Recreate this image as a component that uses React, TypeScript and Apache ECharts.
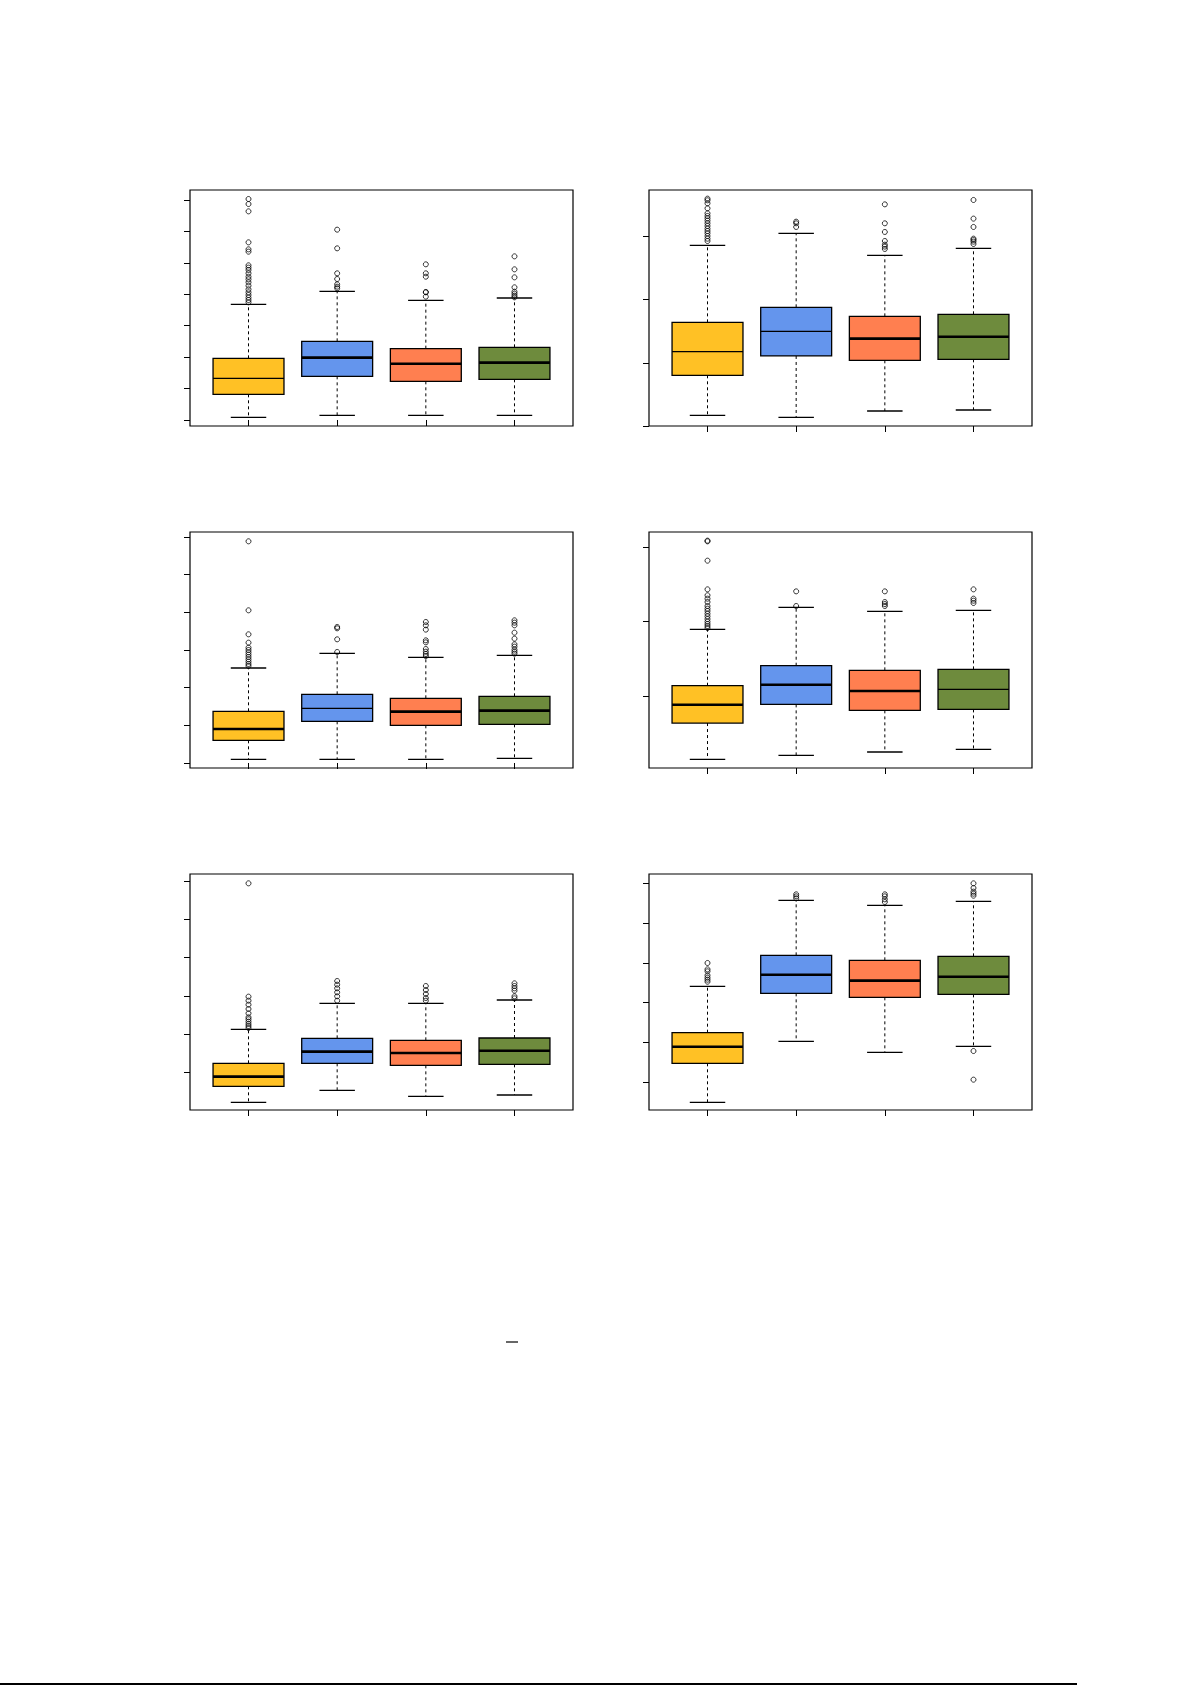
import { useEffect, useRef } from 'react'
import * as echarts from 'echarts'

// four groups per panel, drawn left to right
const groups = [1, 2, 3, 4]
const boxColors = ['#FFC125', '#6495ED', '#FF7F50', '#6E8B3D']

// each box: [lower whisker, Q1, median, Q3, upper whisker]
const p1Boxes = [
  [0.085, 0.817, 1.326, 1.962, 3.68],
  [0.148, 1.389, 1.983, 2.503, 4.094],
  [0.148, 1.23, 1.792, 2.27, 3.807],
  [0.148, 1.294, 1.824, 2.312, 3.882]
]
const p1Outliers = [
  [3.744, 3.818, 3.892, 3.977, 4.062, 4.157, 4.274, 4.38, 4.476, 4.56, 4.667, 4.773, 4.847, 4.921, 5.356, 5.43, 5.653, 6.639, 6.872, 7.031],
  [4.189, 4.242, 4.316, 4.486, 4.667, 5.462, 6.056],
  [3.924, 4.062, 4.073, 4.56, 4.667, 4.953],
  [3.903, 3.956, 4.02, 4.083, 4.221, 4.539, 4.794, 5.207]
]
const p1Ticks = [0, 1, 2, 3, 4, 5, 6, 7]
const p1Range = [-0.191, 7.318]

const p2Boxes = [
  [0.169, 0.802, 1.176, 1.64, 2.859],
  [0.137, 1.108, 1.498, 1.878, 3.049],
  [0.237, 1.039, 1.382, 1.735, 2.7],
  [0.253, 1.055, 1.413, 1.767, 2.811]
]
const p2Outliers = [
  [2.927, 2.964, 3.006, 3.049, 3.085, 3.122, 3.165, 3.207, 3.249, 3.286, 3.323, 3.365, 3.444, 3.523, 3.571, 3.597],
  [3.149, 3.207, 3.233],
  [2.801, 2.838, 2.869, 2.927, 3.07, 3.207, 3.507],
  [2.88, 2.917, 2.943, 2.964, 3.149, 3.281, 3.576]
]
const p2Ticks = [0, 1, 2, 3]
const p2Range = [0, 3.734]

const p3Boxes = [
  [0.097, 0.602, 0.903, 1.372, 2.522],
  [0.097, 1.106, 1.451, 1.823, 2.911],
  [0.097, 1.0, 1.363, 1.717, 2.805],
  [0.124, 1.027, 1.389, 1.77, 2.858]
]
const p3Outliers = [
  [2.575, 2.628, 2.69, 2.752, 2.814, 2.876, 2.938, 3.0, 3.062, 3.194, 3.416, 4.053, 5.885],
  [2.947, 3.283, 3.575, 3.61],
  [2.84, 2.894, 2.955, 3.026, 3.203, 3.256, 3.54, 3.655, 3.743],
  [2.903, 2.955, 3.009, 3.088, 3.15, 3.301, 3.46, 3.655, 3.725, 3.787]
]
const p3Ticks = [0, 1, 2, 3, 4, 5, 6]
const p3Range = [-0.133, 6.132]

const p4Boxes = [
  [0.156, 0.642, 0.888, 1.142, 1.897],
  [0.209, 0.892, 1.156, 1.41, 2.192],
  [0.254, 0.812, 1.071, 1.348, 2.138],
  [0.29, 0.825, 1.093, 1.361, 2.152]
]
const p4Outliers = [
  [1.915, 1.942, 1.969, 2.0, 2.035, 2.071, 2.107, 2.143, 2.174, 2.21, 2.263, 2.308, 2.353, 2.433, 2.817, 3.076, 3.085],
  [2.21, 2.406],
  [2.21, 2.236, 2.263, 2.406],
  [2.25, 2.281, 2.308, 2.433]
]
const p4Ticks = [1, 2, 3]
const p4Range = [0.04, 3.201]

const p5Boxes = [
  [0.214, 0.633, 0.886, 1.235, 2.125],
  [0.528, 1.235, 1.54, 1.889, 2.806],
  [0.371, 1.182, 1.505, 1.837, 2.806],
  [0.406, 1.209, 1.566, 1.898, 2.893]
]
const p5Outliers = [
  [2.16, 2.212, 2.264, 2.325, 2.387, 2.439, 2.544, 2.657, 2.77, 2.875, 2.98, 5.947],
  [2.875, 2.989, 3.093, 3.198, 3.294, 3.39],
  [2.875, 2.945, 3.05, 3.154, 3.259],
  [2.936, 2.989, 3.137, 3.198, 3.259, 3.329]
]
const p5Ticks = [1, 2, 3, 4, 5, 6]
const p5Range = [0.013, 6.191]

const p6Boxes = [
  [0.497, 1.477, 1.895, 2.247, 3.411],
  [2.029, 3.235, 3.704, 4.19, 5.572],
  [1.753, 3.135, 3.554, 4.065, 5.446],
  [1.904, 3.21, 3.654, 4.165, 5.547]
]
const p6Outliers = [
  [3.528, 3.579, 3.629, 3.688, 3.788, 3.838, 3.998],
  [5.622, 5.673, 5.723],
  [5.53, 5.597, 5.673, 5.723],
  [5.689, 5.74, 5.79, 5.882, 5.999, 1.786, 1.066]
]
const p6Ticks = [1, 2, 3, 4, 5, 6]
const p6Range = [0.304, 6.234]

const panels = [
  { boxes: p1Boxes, outliers: p1Outliers, ticks: p1Ticks, range: p1Range, thin: [0] },
  { boxes: p2Boxes, outliers: p2Outliers, ticks: p2Ticks, range: p2Range, thin: [0, 1] },
  { boxes: p3Boxes, outliers: p3Outliers, ticks: p3Ticks, range: p3Range, thin: [1] },
  { boxes: p4Boxes, outliers: p4Outliers, ticks: p4Ticks, range: p4Range, thin: [3] },
  { boxes: p5Boxes, outliers: p5Outliers, ticks: p5Ticks, range: p5Range, thin: [] as number[] },
  { boxes: p6Boxes, outliers: p6Outliers, ticks: p6Ticks, range: p6Range, thin: [] as number[] }
]

export default function App(): JSX.Element {
  const chartRef = useRef<HTMLDivElement>(null)

  useEffect(() => {
    if (!chartRef.current) return
    const chart = echarts.init(chartRef.current, null, { renderer: 'svg' })

    const grids: any[] = []
    const xAxes: any[] = []
    const yAxes: any[] = []
    const series: any[] = []

    panels.forEach((p, i) => {
      const col = i % 2
      const row = Math.floor(i / 2)
      grids.push({
        left: col === 0 ? 190 : 649,
        top: 190 + row * 342,
        width: 383,
        height: 236,
        show: true,
        borderColor: '#000',
        borderWidth: 1.2,
        backgroundColor: 'transparent'
      })
      xAxes.push({
        gridIndex: i,
        type: 'value',
        min: 0.34,
        max: 4.66,
        axisLine: { show: false },
        axisTick: { show: true, customValues: groups, length: 6, lineStyle: { color: '#000', width: 1 } },
        axisLabel: { show: false },
        splitLine: { show: false }
      })
      yAxes.push({
        gridIndex: i,
        type: 'value',
        min: p.range[0],
        max: p.range[1],
        axisLine: { show: false },
        axisTick: { show: true, customValues: p.ticks, length: 6, lineStyle: { color: '#000', width: 1 } },
        axisLabel: { show: false },
        splitLine: { show: false }
      })

      series.push({
        type: 'custom',
        xAxisIndex: i,
        yAxisIndex: i,
        clip: false,
        data: p.boxes.map((b, k) => [groups[k], ...b]),
        encode: { x: 0, y: [1, 2, 3, 4, 5] },
        renderItem: (params: any, api: any) => {
          const k = params.dataIndex
          const x = api.value(0)
          const lo = api.coord([x, api.value(1)])
          const q1 = api.coord([x, api.value(2)])
          const med = api.coord([x, api.value(3)])
          const q3 = api.coord([x, api.value(4)])
          const hi = api.coord([x, api.value(5)])
          const halfBox = api.size([0.4, 0])[0]
          const halfCap = api.size([0.2, 0])[0]
          const cx = med[0]
          const dash = { stroke: '#000', lineWidth: 1, lineDash: [3, 3] }
          const solid = { stroke: '#000', lineWidth: 1.3 }
          return {
            type: 'group',
            children: [
              { type: 'line', shape: { x1: cx, y1: q3[1], x2: cx, y2: hi[1] }, style: dash },
              { type: 'line', shape: { x1: cx, y1: q1[1], x2: cx, y2: lo[1] }, style: dash },
              { type: 'line', shape: { x1: cx - halfCap, y1: hi[1], x2: cx + halfCap, y2: hi[1] }, style: solid },
              { type: 'line', shape: { x1: cx - halfCap, y1: lo[1], x2: cx + halfCap, y2: lo[1] }, style: solid },
              {
                type: 'rect',
                shape: { x: cx - halfBox, y: q3[1], width: halfBox * 2, height: q1[1] - q3[1] },
                style: { fill: boxColors[k], stroke: '#000', lineWidth: 1.3 }
              },
              {
                type: 'line',
                shape: { x1: cx - halfBox, y1: med[1], x2: cx + halfBox, y2: med[1] },
                style: { stroke: '#000', lineWidth: p.thin.includes(k) ? 1.3 : 2.6 }
              }
            ]
          }
        }
      })

      const pts: number[][] = []
      p.outliers.forEach((list, k) => list.forEach((v) => pts.push([groups[k], v])))
      series.push({
        type: 'scatter',
        xAxisIndex: i,
        yAxisIndex: i,
        symbol: 'circle',
        symbolSize: 5,
        data: pts,
        itemStyle: { color: 'rgba(0,0,0,0)', borderColor: '#000', borderWidth: 1 },
        z: 3
      })
    })

    chart.setOption({
      animation: false,
      backgroundColor: '#fff',
      grid: grids,
      xAxis: xAxes,
      yAxis: yAxes,
      series,
      graphic: [
        { type: 'line', shape: { x1: 506, y1: 1342, x2: 518, y2: 1342 }, style: { stroke: '#000', lineWidth: 1.2 } },
        { type: 'line', shape: { x1: 0, y1: 1684, x2: 1077, y2: 1684 }, style: { stroke: '#000', lineWidth: 2 } }
      ]
    })

    return () => {
      chart.dispose()
    }
  }, [])

  return (
    <div
      ref={chartRef}
      style={{ position: 'absolute', left: 0, top: 0, width: 1192, height: 1685 }}
    />
  )
}
